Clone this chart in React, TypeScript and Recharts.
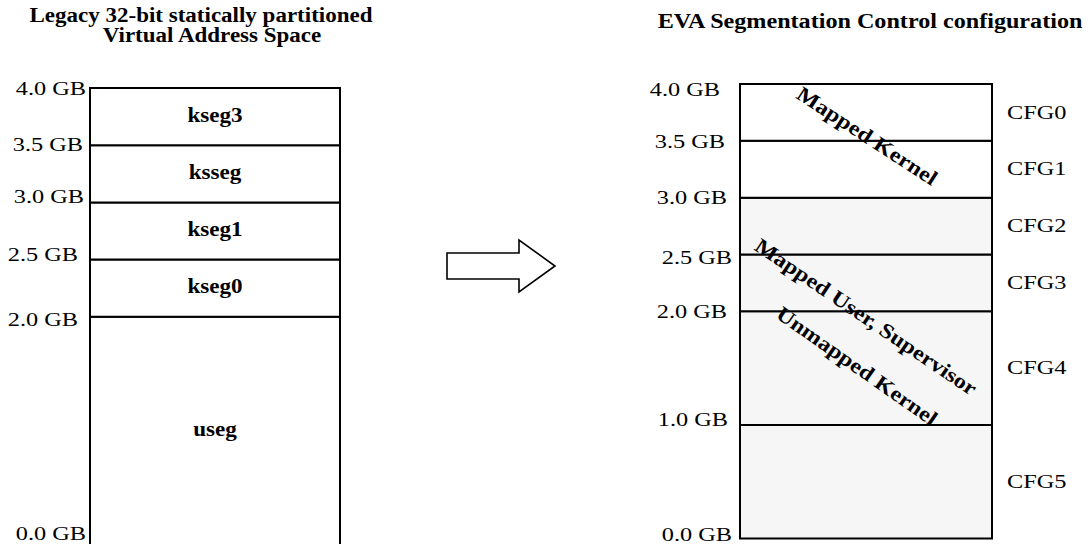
import { Bar, BarChart, LabelList, XAxis, YAxis } from 'recharts'

const LEGACY_SEGMENTS = ['useg', 'kseg0', 'kseg1', 'ksseg', 'kseg3']
const LEGACY_SIZES = [2, 0.5, 0.5, 0.5, 0.5]
const LEGACY_TICKS = [0, 2, 2.5, 3, 3.5, 4]

const EVA_SEGMENTS = ['CFG5', 'CFG4', 'CFG3', 'CFG2', 'CFG1', 'CFG0']
const EVA_SIZES = [1, 1, 0.5, 0.5, 0.5, 0.5]
const EVA_KERNEL_ONLY = [false, false, false, false, true, true]
const EVA_TICKS = [0, 1, 2, 2.5, 3, 3.5, 4]

const REGION_LABELS = ['Mapped Kernel', 'Mapped User, Supervisor', 'Unmapped Kernel']

const SERIF = '"Liberation Serif", "Times New Roman", serif'

// the source drawing uses a wide-set Times, so glyphs get stretched sideways
const REG = { size: 19, sx: 1.28 }
const BOLD = { size: 21, sx: 1.1 }

// per-tick [dx, dy] nudges so labels sit where the original put them
const LEFT_NUDGE: Record<number, [number, number]> = {
  4: [-4, 1],
  3.5: [-7, 0],
  3: [-6, -5],
  2.5: [-12, -5],
  2: [-12, 3],
  0: [-4, -12],
}
const RIGHT_NUDGE: Record<number, [number, number]> = {
  4: [-20, 6],
  3.5: [-15, 1],
  3: [-13, 0],
  2.5: [-8, 3],
  2: [-13, 1],
  1: [-12, -5],
  0: [-8, -4],
}

const legacyRow: Record<string, number | string> = { name: 'legacy' }
LEGACY_SEGMENTS.forEach((s, i) => (legacyRow[s] = LEGACY_SIZES[i]))
const evaRow: Record<string, number | string> = { name: 'eva' }
EVA_SEGMENTS.forEach((s, i) => (evaRow[s] = EVA_SIZES[i]))

function SText(props: {
  x: number
  y: number
  size: number
  sx: number
  bold?: boolean
  anchor?: 'start' | 'middle' | 'end'
  rotate?: number
  children: React.ReactNode
}) {
  const { x, y, size, sx, bold, anchor = 'middle', rotate = 0, children } = props
  return (
    <text
      transform={`translate(${x} ${y}) rotate(${rotate}) scale(${sx} 1)`}
      textAnchor={anchor}
      dominantBaseline="central"
      fontFamily={SERIF}
      fontWeight={bold ? 'bold' : 'normal'}
      fontSize={size}
      fill="#000"
    >
      {children}
    </text>
  )
}

function GbTick(props: any) {
  const { x, y, payload, nudge } = props
  const [dx, dy] = nudge[payload.value] ?? [0, 0]
  return (
    <SText x={x + dx} y={y + dy} size={REG.size} sx={REG.sx} anchor="end">
      {payload.value.toFixed(1)} GB
    </SText>
  )
}

function box(p: any) {
  const vb = p.viewBox ?? p
  return { x: Number(vb.x), y: Number(vb.y), w: Number(vb.width), h: Number(vb.height) }
}

function CenterLabel(props: any) {
  const b = box(props)
  return (
    <SText x={b.x + b.w / 2} y={b.y + b.h / 2 - 2} size={BOLD.size} sx={BOLD.sx} bold>
      {props.text}
    </SText>
  )
}

function SideLabel(props: any) {
  const b = box(props)
  return (
    <SText x={b.x + b.w + 15} y={b.y + b.h / 2} size={REG.size} sx={REG.sx} anchor="start">
      {props.text}
    </SText>
  )
}

export default function App() {
  return (
    <div
      style={{
        position: 'absolute',
        left: 0,
        top: 0,
        width: 1090,
        height: 544,
        overflow: 'hidden',
        background: '#fff',
      }}
    >
      <div style={{ position: 'absolute', left: 0, top: 0 }}>
        <BarChart
          width={360}
          height={560}
          data={[legacyRow]}
          margin={{ top: 88, right: 20, bottom: 14.5, left: 0 }}
          barCategoryGap={0}
          barGap={0}
        >
          <XAxis dataKey="name" hide />
          <YAxis
            type="number"
            domain={[0, 4]}
            ticks={LEGACY_TICKS}
            width={90}
            axisLine={false}
            tickLine={false}
            tickSize={0}
            tickMargin={0}
            interval={0}
            tick={(p: any) => <GbTick {...p} nudge={LEFT_NUDGE} />}
          />
          {LEGACY_SEGMENTS.map((seg) => (
            <Bar
              key={seg}
              dataKey={seg}
              stackId="a"
              fill="#fff"
              stroke="#000"
              strokeWidth={2}
              isAnimationActive={false}
            >
              <LabelList content={(p: any) => <CenterLabel {...p} text={seg} />} />
            </Bar>
          ))}
        </BarChart>
      </div>

      <div style={{ position: 'absolute', left: 640, top: 0 }}>
        <BarChart
          width={450}
          height={544}
          data={[evaRow]}
          margin={{ top: 84, right: 98, bottom: 5.5, left: 0 }}
          barCategoryGap={0}
          barGap={0}
        >
          <XAxis dataKey="name" hide />
          <YAxis
            type="number"
            domain={[0, 4]}
            ticks={EVA_TICKS}
            width={100}
            axisLine={false}
            tickLine={false}
            tickSize={0}
            tickMargin={0}
            interval={0}
            tick={(p: any) => <GbTick {...p} nudge={RIGHT_NUDGE} />}
          />
          {EVA_SEGMENTS.map((seg, i) => (
            <Bar
              key={seg}
              dataKey={seg}
              stackId="a"
              fill={EVA_KERNEL_ONLY[i] ? '#fff' : '#f6f6f6'}
              stroke="#000"
              strokeWidth={2}
              isAnimationActive={false}
            >
              <LabelList content={(p: any) => <SideLabel {...p} text={seg} />} />
            </Bar>
          ))}
        </BarChart>
      </div>

      <svg
        width={1090}
        height={544}
        style={{ position: 'absolute', left: 0, top: 0, pointerEvents: 'none' }}
      >
        <SText x={201} y={16} size={20} sx={1.15} bold>
          Legacy 32-bit statically partitioned
        </SText>
        <SText x={212} y={36} size={20} sx={1.15} bold>
          Virtual Address Space
        </SText>
        <SText x={870} y={21} size={21} sx={1.15} bold>
          EVA Segmentation Control configuration
        </SText>

        <path
          d="M447 253 H519 V240 L555 266 L519 292 V279 H447 Z"
          fill="#fff"
          stroke="#000"
          strokeWidth={1.6}
        />

        <SText x={867} y={136} size={21} sx={1.15} rotate={33} bold>
          {REGION_LABELS[0]}
        </SText>
        <SText x={866} y={317} size={21} sx={1.15} rotate={34} bold>
          {REGION_LABELS[1]}
        </SText>
        <SText x={857} y={366} size={21} sx={1.15} rotate={35} bold>
          {REGION_LABELS[2]}
        </SText>
      </svg>
    </div>
  )
}
